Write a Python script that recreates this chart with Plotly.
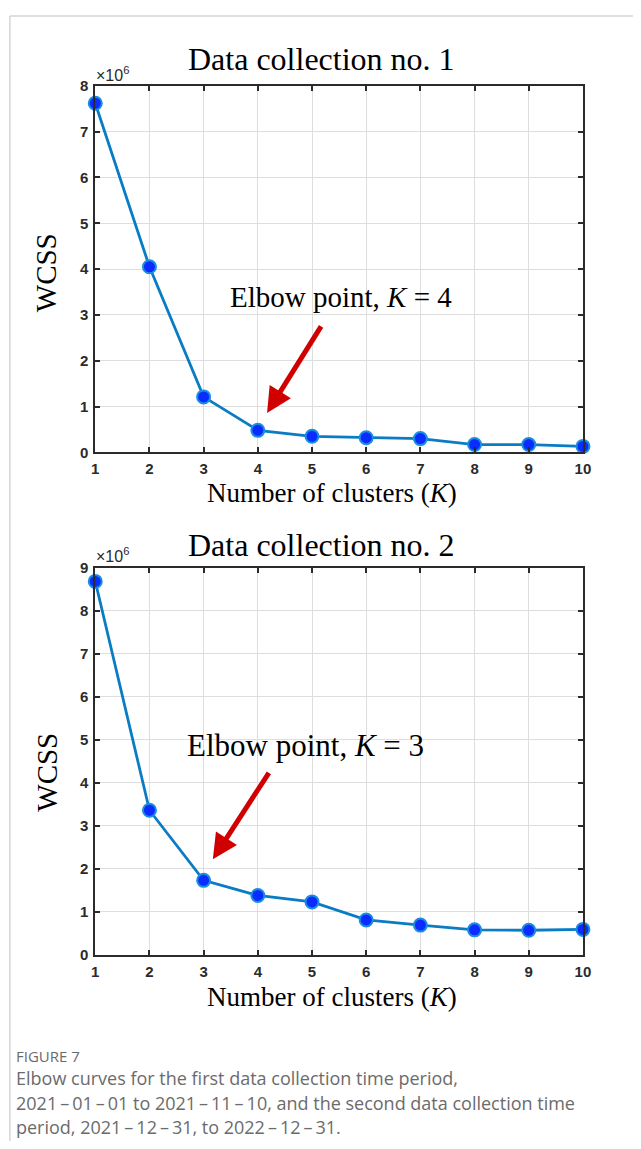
import plotly.graph_objects as go

# ---- data ----
k_values = [1, 2, 3, 4, 5, 6, 7, 8, 9, 10]
wcss_1 = [7.62, 4.05, 1.21, 0.48, 0.35, 0.32, 0.30, 0.17, 0.17, 0.13]  # x10^6
wcss_2 = [8.68, 3.36, 1.73, 1.38, 1.23, 0.81, 0.69, 0.58, 0.57, 0.59]  # x10^6
titles = ["Data collection no. 1", "Data collection no. 2"]
elbow_labels = ["Elbow point, <i>K</i> = 4", "Elbow point, <i>K</i> = 3"]
caption_head = "FIGURE 7"
D = "\u2009\u2013\u2009"
caption_lines = [
    "Elbow curves for the first data collection time period,",
    f"2021{D}01{D}01 to 2021{D}11{D}10, and the second data collection time",
    f"period, 2021{D}12{D}31, to 2022{D}12{D}31.",
]

W, H = 641, 1149
def py(p):  # pixel y (from top) -> paper y
    return 1 - p / H
def px(p):
    return p / W

LINE_C = "#0a7cc4"
MARK_C = "#0a2cff"
MARK_EDGE = "#1a8fe0"
AX_C = "#2b2b2b"
GRID_C = "#dedede"
SERIF = "Liberation Serif"

fig = go.Figure()
for vals, xa, ya in [(wcss_1, "x", "y"), (wcss_2, "x2", "y2")]:
    fig.add_trace(go.Scatter(
        x=k_values, y=vals, xaxis=xa, yaxis=ya, mode="lines+markers",
        line=dict(color=LINE_C, width=2.8),
        marker=dict(size=13, color=MARK_C, line=dict(color=MARK_EDGE, width=2)),
        cliponaxis=False, showlegend=False,
    ))

xdom = [px(93), px(590)]
tickfont = dict(family="Liberation Sans", size=15, color=AX_C, weight="bold")
common = dict(showgrid=True, gridcolor=GRID_C, gridwidth=1,
              showline=True, linecolor=AX_C, linewidth=2, mirror="ticks",
              ticks="inside", ticklen=5, tickwidth=2, tickcolor=AX_C, zeroline=False,
              tickfont=tickfont)

fig.update_layout(
    width=W, height=H, margin=dict(l=0, r=0, t=0, b=0),
    paper_bgcolor="white", plot_bgcolor="white",
    xaxis=dict(domain=xdom, anchor="y", range=[1, 10], tickvals=k_values, ticklabelstandoff=2, **common),
    yaxis=dict(domain=[py(450), py(78)], anchor="x", range=[0, 8], dtick=1, ticklabelstandoff=2, **common),
    xaxis2=dict(domain=xdom, anchor="y2", range=[1, 10], tickvals=k_values, ticklabelstandoff=2, **common),
    yaxis2=dict(domain=[py(960), py(567)], anchor="x2", range=[0, 9], dtick=1, ticklabelstandoff=2, **common),
)

ann = []
# titles / axis labels
for t, ty, xl_y, wy, exp_y in [(titles[0], 51, 491, 268, 66), (titles[1], 544, 1003, 775, 554)]:
    ann.append(dict(text=t, x=px(324), y=py(ty), xref="paper", yref="paper", showarrow=False,
                    font=dict(family=SERIF, size=32, color="black"), xanchor="center", yanchor="middle"))
    ann.append(dict(text="Number of clusters (<i>K</i>)", x=px(334), y=py(xl_y), xref="paper", yref="paper",
                    showarrow=False, font=dict(family=SERIF, size=27, color="black"),
                    xanchor="center", yanchor="middle"))
    ann.append(dict(text="WCSS", x=px(43), y=py(wy), xref="paper", yref="paper", showarrow=False,
                    textangle=-90, font=dict(family=SERIF, size=29, color="black"),
                    xanchor="center", yanchor="middle"))
    ann.append(dict(text="\u00d710<sup>6</sup>", x=px(92), y=py(exp_y), xref="paper", yref="paper",
                    showarrow=False, font=dict(family="Liberation Sans", size=16, color=AX_C),
                    xanchor="left", yanchor="middle"))

# elbow labels
ann.append(dict(text=elbow_labels[0], x=5.53, y=3.40, xref="x", yref="y", showarrow=False,
                font=dict(family=SERIF, size=29, color="black")))
ann.append(dict(text=elbow_labels[1], x=4.88, y=4.87, xref="x2", yref="y2", showarrow=False,
                font=dict(family=SERIF, size=31, color="black")))
# arrows pointing to the elbow
ann.append(dict(text="", x=4.17, y=0.86, xref="x", yref="y", showarrow=True, ax=55, ay=-88,
                arrowhead=2, arrowsize=1.0, arrowwidth=5, arrowcolor="#d10000"))
ann.append(dict(text="", x=3.17, y=2.22, xref="x2", yref="y2", showarrow=True, ax=57, ay=-88,
                arrowhead=2, arrowsize=1.0, arrowwidth=5, arrowcolor="#d10000"))

# caption
ann.append(dict(text=caption_head, x=px(10), y=py(1063), xref="paper", yref="paper", showarrow=False,
                xanchor="left", yanchor="middle",
                font=dict(family="Open Sans", size=15, color="#6b6b6b")))
for i, line in enumerate(caption_lines):
    ann.append(dict(text=line, x=px(10), y=py(1085 + 25 * i), xref="paper", yref="paper", showarrow=False,
                    xanchor="left", yanchor="middle",
                    font=dict(family="Open Sans", size=18, color="#6b6b6b")))
fig.update_layout(annotations=ann)

# page frame lines
fig.add_shape(type="line", xref="paper", yref="paper", x0=px(6), x1=1, y0=py(7), y1=py(7),
              line=dict(color="#d6d6d6", width=1.5))
fig.add_shape(type="line", xref="paper", yref="paper", x0=px(6), x1=px(6), y0=py(7), y1=0,
              line=dict(color="#d6d6d6", width=1.5))

fig.write_html("out.html", config={"displayModeBar": False},
               post_script="document.body.style.margin='0';document.body.style.overflow='hidden';")
